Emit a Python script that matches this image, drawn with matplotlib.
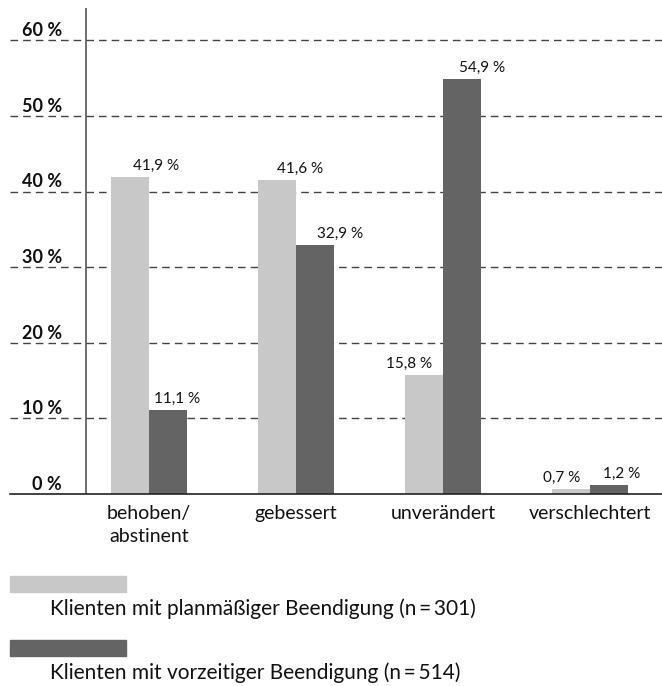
import matplotlib
matplotlib.use("Agg")
import matplotlib.pyplot as plt
from matplotlib.patches import Rectangle
import matplotlib.transforms as mtrans
import numpy as np

categories = ["behoben/\nabstinent", "gebessert", "unverändert", "verschlechtert"]
planmaessig = [41.9, 41.6, 15.8, 0.7]
vorzeitig = [11.1, 32.9, 54.9, 1.2]
series_labels = ["Klienten mit planmäßiger Beendigung (n\u2009=\u2009301)",
                 "Klienten mit vorzeitiger Beendigung (n\u2009=\u2009514)"]
yticks = [0, 10, 20, 30, 40, 50, 60]
ytick_labels = [f"{v} %" for v in yticks]

# label horizontal offsets (pixels), styling only
dx_plan = [26, 23, -15, -9]
dx_vorz = [9, 25, 20, 13]

LIGHT = "#c8c8c8"
DARK = "#646464"
FONT = "Lato"
plt.rcParams["font.family"] = [FONT, "DejaVu Sans"]


def fmt(v):
    return f"{v:.1f}".replace(".", ",") + " %"


W, H = 662, 686
fig = plt.figure(figsize=(W / 100, H / 100), dpi=100)
ax = fig.add_axes([10 / W, (H - 494) / H, 652 / W, 486 / H])
for s in ax.spines.values():
    s.set_visible(False)

x = np.arange(len(categories))
unit = 147.0
ax.set_xlim(-(149 - 10) / unit, len(categories) - 1 + (662 - 590) / unit)
ax.set_ylim(0, (494 - 8) / 75.6 * 10)
bw = 38 / unit
b1 = ax.bar(x - bw / 2, planmaessig, bw, color=LIGHT, zorder=3)
b2 = ax.bar(x + bw / 2, vorzeitig, bw, color=DARK, zorder=3)

# gridlines
for v in yticks[1:]:
    ax.axhline(v, color="#444444", lw=1.0, dashes=(5.5, 3.6), zorder=1)
ax.axhline(0, color="#222222", lw=1.2, zorder=4, clip_on=False)
# y axis line
ax.axvline(-(149 - 86) / unit, color="#555555", lw=1.2, zorder=2)

blend = mtrans.blended_transform_factory(fig.transFigure, ax.transData)
for v, lbl in zip(yticks, ytick_labels):
    ax.annotate(lbl, xy=(62 / W, v), xycoords=blend, xytext=(0, 3),
                textcoords="offset points", ha="right", va="baseline",
                fontsize=13, fontweight="bold", color="#111111")

for bars, vals, dxs in ((b1, planmaessig, dx_plan), (b2, vorzeitig, dx_vorz)):
    for r, v, d in zip(bars, vals, dxs):
        ax.annotate(fmt(v), xy=(r.get_x() + r.get_width() / 2, v),
                    xytext=(d * 0.72, 5), textcoords="offset points",
                    ha="center", va="baseline", fontsize=11, color="#111111")

ax.set_xticks(x)
ax.set_xticklabels(categories, fontsize=14, linespacing=1.45, color="#111111")
ax.tick_params(axis="x", length=0, pad=8)
ax.set_yticks([])

# legend
for i, (lbl, col) in enumerate(zip(series_labels, (LIGHT, DARK))):
    y0 = 576 + i * 64
    fig.patches.append(Rectangle((10 / W, (H - y0 - 16) / H), 116 / W, 16 / H,
                                 transform=fig.transFigure, color=col))
    fig.text(50 / W, (H - (y0 + 39)) / H, lbl, ha="left", va="baseline",
             fontsize=15, color="#111111")

fig.savefig("out.png", dpi=100)
